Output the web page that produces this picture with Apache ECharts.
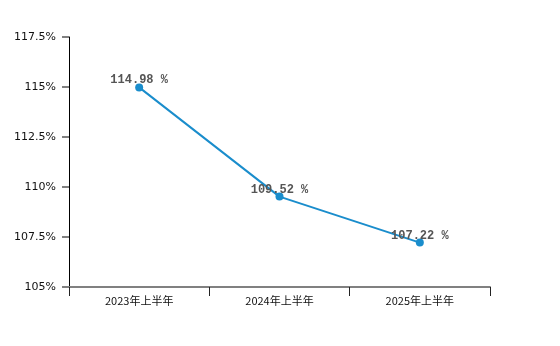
<!DOCTYPE html>
<html>
<head>
<meta charset="utf-8">
<script src="https://cdn.jsdelivr.net/npm/echarts@6/dist/echarts.min.js"></script>
<style>
  html, body { margin: 0; padding: 0; background: #fff; }
  #chart { width: 560px; height: 346px; }
</style>
</head>
<body>
<div id="chart"></div>
<script>
// Half-year periods and their ratio values (%)
const periods = ['2023年上半年', '2024年上半年', '2025年上半年'];
const ratios = [114.98, 109.52, 107.22];
const yMin = 105;
const yMax = 117.5;
const yStep = 2.5;

const chart = echarts.init(document.getElementById('chart'));
chart.setOption({
  animation: false,
  backgroundColor: '#fff',
  grid: { left: 69, right: 70, top: 37, bottom: 59 },
  xAxis: {
    type: 'category',
    data: periods,
    boundaryGap: true,
    axisLine: { lineStyle: { color: '#808080', width: 2 } },
    axisTick: { show: true, length: 9, lineStyle: { color: '#222', width: 1 } },
    axisLabel: { color: '#111', fontSize: 11, margin: 8, fontFamily: 'Noto Sans CJK SC' },
    splitLine: { show: false }
  },
  yAxis: {
    type: 'value',
    min: yMin,
    max: yMax,
    interval: yStep,
    axisLine: { show: true, lineStyle: { color: '#000', width: 1 } },
    axisTick: { show: true, length: 7, lineStyle: { color: '#808080', width: 2 } },
    axisLabel: {
      color: '#111', fontSize: 11, margin: 13, fontFamily: 'DejaVu Sans',
      formatter: v => v + '%'
    },
    splitLine: { show: false }
  },
  series: [{
    type: 'line',
    data: ratios,
    symbol: 'circle',
    symbolSize: 8,
    itemStyle: { color: '#1a8dcc' },
    lineStyle: { color: '#1a8dcc', width: 2 },
    label: {
      show: true,
      position: 'top',
      distance: -3,
      color: '#555',
      fontSize: 12,
      fontWeight: 'bold',
      fontFamily: 'Liberation Mono',
      formatter: p => p.value.toFixed(2) + ' %'
    }
  }]
});
</script>
</body>
</html>
